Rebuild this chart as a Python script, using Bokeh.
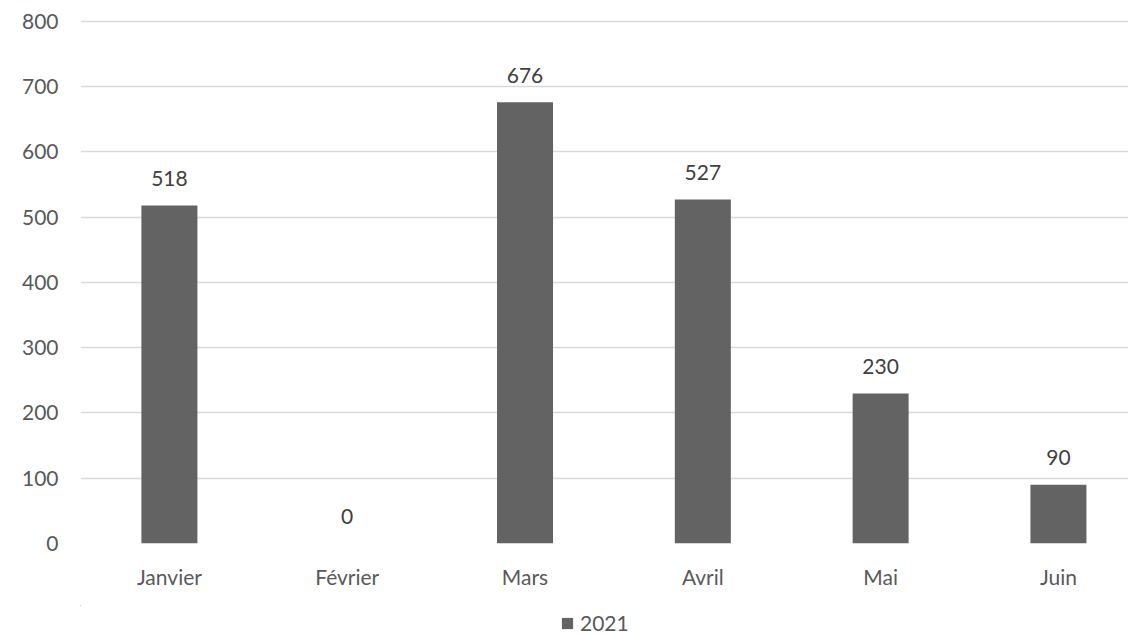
from bokeh.plotting import figure
from bokeh.layouts import column
from bokeh.models import ColumnDataSource, Range1d, FixedTicker, Legend, LegendItem
from bokeh.core.properties import value
from bokeh.embed import file_html
from bokeh.resources import INLINE

months = ["Janvier", "Février", "Mars", "Avril", "Mai", "Juin"]
values_2021 = [518, 0, 676, 527, 230, 90]
y_ticks = [0, 100, 200, 300, 400, 500, 600, 700, 800]
series_name = "2021"

FONT = "Lato"
BAR = "#636363"
xs = [i + 0.5 for i in range(len(months))]
src = ColumnDataSource(dict(x=xs, top=values_2021, lab=[str(v) for v in values_2021]))

p = figure(width=1128, height=605, output_backend="svg", toolbar_location=None,
           x_range=Range1d(0, 5.894), y_range=Range1d(0, 803),
           min_border_left=80, min_border_right=0, min_border_top=19, min_border_bottom=62)
p.outline_line_color = None
p.background_fill_color = "white"
p.border_fill_color = "white"

bars = p.vbar(x="x", top="top", width=0.315, source=src, fill_color=BAR, line_color=None)

p.text(x="x", y="top", text="lab", source=src, text_align="center", text_baseline="alphabetic",
       y_offset=-27, text_font=value(FONT), text_font_size="21px", text_color="#404040")

p.xaxis.ticker = FixedTicker(ticks=xs)
p.xaxis.major_label_overrides = {x: m for x, m in zip(xs, months)}
p.yaxis.ticker = FixedTicker(ticks=y_ticks)
for ax in (p.xaxis[0], p.yaxis[0]):
    ax.axis_line_color = None
    ax.major_tick_line_color = None
    ax.minor_tick_line_color = None
    ax.major_tick_out = 0
    ax.major_tick_in = 0
    ax.major_label_text_font = FONT
    ax.major_label_text_font_size = "21px"
    ax.major_label_text_color = "#595959"
p.xaxis.major_label_standoff = 20
p.yaxis.major_label_standoff = 22

p.xgrid.grid_line_color = None
p.ygrid.ticker = FixedTicker(ticks=y_ticks)
p.ygrid.grid_line_color = "#d9d9d9"
p.ygrid.grid_line_width = 1.5

# legend strip below the chart (its frame is aligned with the chart frame);
# its ranges lie away from the data so only the legend key shows
lf = figure(width=1128, height=30, output_backend="svg", toolbar_location=None,
            x_range=Range1d(100, 101), y_range=Range1d(-2, -1),
            x_axis_type=None, y_axis_type=None,
            min_border_left=80, min_border_right=0, min_border_top=0, min_border_bottom=0)
lf.outline_line_color = None
lf.xgrid.visible = False
lf.ygrid.visible = False
key = lf.vbar(x="x", top="top", width=0.315, source=src, fill_color=BAR, line_color=None)
legend = Legend(items=[LegendItem(label=series_name, renderers=[key])],
                location=(480, 0), orientation="horizontal",
                glyph_width=14, glyph_height=14, padding=0, margin=0,
                label_standoff=6, border_line_color=None, background_fill_alpha=0,
                label_text_font=FONT, label_text_font_size="21px", label_text_color="#595959")
lf.add_layout(legend, "center")

open("out.html", "w").write(file_html(column(p, lf, spacing=0), INLINE))
